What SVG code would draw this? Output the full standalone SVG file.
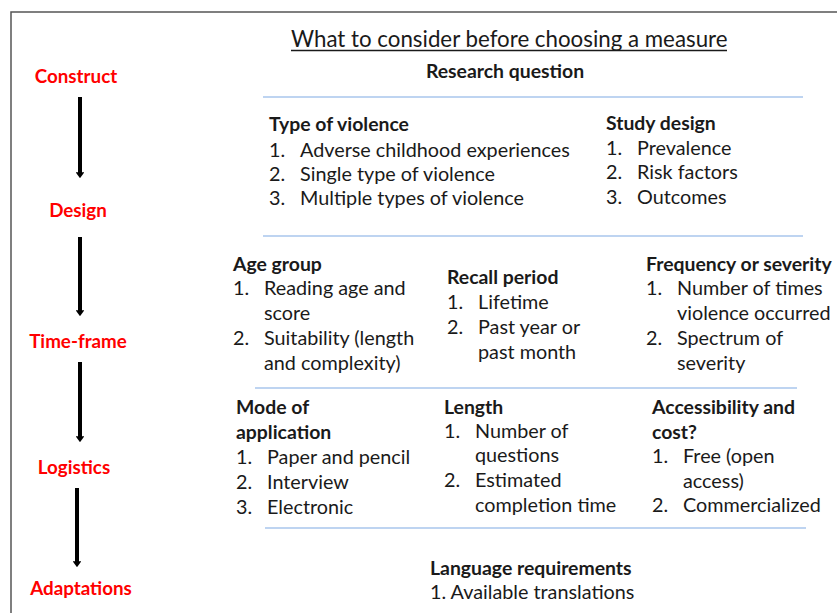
<svg xmlns="http://www.w3.org/2000/svg" width="837" height="613" viewBox="0 0 837 613">
  <defs>
    <marker id="head" markerWidth="1.5" markerHeight="2.2" refX="0.2" refY="1.1" orient="auto" markerUnits="strokeWidth">
      <path d="M0,0 L1.5,1.1 L0,2.2 Z" fill="#000"/>
    </marker>
    <style>
      text { font-family: Lato, "Noto Sans", sans-serif; fill: #1a1a1a; }
      .stage { font-size: 18.8px; font-weight: bold; fill: #ff0000; text-anchor: middle; }
      .head { font-size: 19.4px; font-weight: bold; }
      .item { font-size: 19.8px; }
      .rule { stroke: #a9c6ec; stroke-width: 1.6; fill: none; }
      .arrow { stroke: #000; stroke-width: 4; fill: none; marker-end: url(#head); }
    </style>
  </defs>
  <rect width="837" height="613" fill="#fff"/>
  <!-- outer frame (left and top edges) -->
  <path d="M11,613 L11,12 L837,12" fill="none" stroke="#555" stroke-width="1.5"/>

  <!-- stage labels -->
  <g id="construct"><text class="stage" x="76" y="83">Construct</text></g>
  <g id="design"><text class="stage" x="78" y="217">Design</text></g>
  <g id="time-frame"><text class="stage" x="78" y="348">Time-frame</text></g>
  <g id="logistics"><text class="stage" x="74" y="474">Logistics</text></g>
  <g id="adaptations"><text class="stage" x="81" y="595">Adaptations</text></g>

  <g id="connectors">
    <line class="arrow" x1="80" y1="97" x2="80" y2="173"/>
    <line class="arrow" x1="80" y1="237" x2="80" y2="311"/>
    <line class="arrow" x1="80" y1="362" x2="80" y2="437"/>
    <line class="arrow" x1="77" y1="488" x2="77" y2="562"/>
  </g>

  <!-- title -->
  <g id="title">
    <text x="291" y="47" style="font-size:22.3px;">What to consider before choosing a measure</text>
    <line x1="291" y1="50.5" x2="727" y2="50.5" stroke="#1a1a1a" stroke-width="1.6"/>
    <text x="505" y="78" class="head" style="text-anchor:middle;">Research question</text>
  </g>

  <!-- separators -->
  <line class="rule" x1="263" y1="97" x2="803" y2="97"/>
  <line class="rule" x1="263" y1="236" x2="803" y2="236"/>
  <line class="rule" x1="255" y1="388" x2="797" y2="388"/>
  <line class="rule" x1="265" y1="528" x2="806" y2="528"/>

  <g id="type-of-violence">
    <text class="head" x="269" y="131">Type of violence</text>
    <text class="item" x="269" y="157">1.</text><text class="item" x="300" y="157">Adverse childhood experiences</text>
    <text class="item" x="269" y="181">2.</text><text class="item" x="300" y="181">Single type of violence</text>
    <text class="item" x="269" y="205">3.</text><text class="item" x="300" y="205">Multiple types of violence</text>
  </g>

  <g id="study-design">
    <text class="head" x="606" y="130">Study design</text>
    <text class="item" x="606" y="155">1.</text><text class="item" x="637" y="155">Prevalence</text>
    <text class="item" x="606" y="179">2.</text><text class="item" x="637" y="179">Risk factors</text>
    <text class="item" x="606" y="204">3.</text><text class="item" x="637" y="204">Outcomes</text>
  </g>

  <g id="age-group">
    <text class="head" x="233" y="271">Age group</text>
    <text class="item" x="233" y="295">1.</text><text class="item" x="264" y="295">Reading age and</text>
    <text class="item" x="264" y="320">score</text>
    <text class="item" x="233" y="345">2.</text><text class="item" x="264" y="345">Suitability (length</text>
    <text class="item" x="264" y="370">and complexity)</text>
  </g>

  <g id="recall-period">
    <text class="head" x="447" y="284">Recall period</text>
    <text class="item" x="447" y="309">1.</text><text class="item" x="478" y="309">Lifetime</text>
    <text class="item" x="447" y="334">2.</text><text class="item" x="478" y="334">Past year or</text>
    <text class="item" x="478" y="359">past month</text>
  </g>

  <g id="frequency-or-severity">
    <text class="head" x="646" y="271">Frequency or severity</text>
    <text class="item" x="646" y="295">1.</text><text class="item" x="677" y="295">Number of times</text>
    <text class="item" x="677" y="320">violence occurred</text>
    <text class="item" x="646" y="345">2.</text><text class="item" x="677" y="345">Spectrum of</text>
    <text class="item" x="677" y="370">severity</text>
  </g>

  <g id="mode-of-application">
    <text class="head" x="236" y="414">Mode of</text>
    <text class="head" x="236" y="439">application</text>
    <text class="item" x="236" y="464">1.</text><text class="item" x="267" y="464">Paper and pencil</text>
    <text class="item" x="236" y="489">2.</text><text class="item" x="267" y="489">Interview</text>
    <text class="item" x="236" y="514">3.</text><text class="item" x="267" y="514">Electronic</text>
  </g>

  <g id="length">
    <text class="head" x="444" y="414">Length</text>
    <text class="item" x="444" y="438">1.</text><text class="item" x="475" y="438">Number of</text>
    <text class="item" x="475" y="462">questions</text>
    <text class="item" x="444" y="487">2.</text><text class="item" x="475" y="487">Estimated</text>
    <text class="item" x="475" y="512">completion time</text>
  </g>

  <g id="accessibility-and-cost">
    <text class="head" x="652" y="414">Accessibility and</text>
    <text class="head" x="652" y="439">cost?</text>
    <text class="item" x="652" y="463">1.</text><text class="item" x="683" y="463">Free (open</text>
    <text class="item" x="683" y="488">access)</text>
    <text class="item" x="652" y="512">2.</text><text class="item" x="683" y="512">Commercialized</text>
  </g>

  <g id="language-requirements">
    <text class="head" x="430" y="575">Language requirements</text>
    <text class="item" x="430" y="599">1. Available translations</text>
  </g>
</svg>
